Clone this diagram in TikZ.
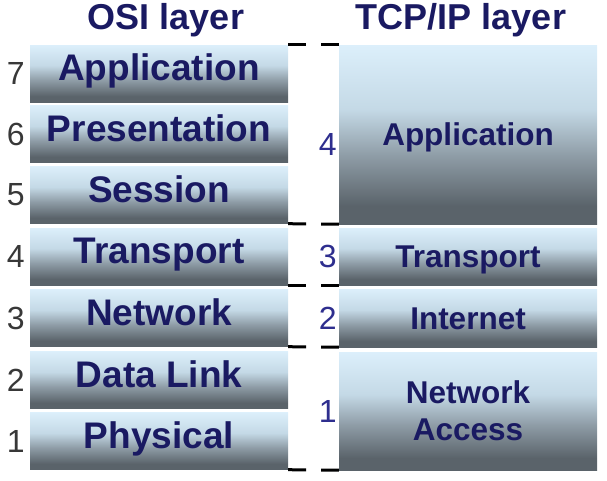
\documentclass[tikz,border=0pt]{standalone}
\usepackage{fontspec}
\usepackage{tikz}
\usepackage{xcolor}
\usetikzlibrary{positioning}
\setmainfont{Liberation Sans}

\definecolor{laytop}{HTML}{DCEFFB}
\definecolor{laylight}{HTML}{C4D9E6}
\definecolor{laymid}{HTML}{8E9CA6}
\definecolor{laydark}{HTML}{5A636A}
\definecolor{laytext}{HTML}{1A1A62}
\definecolor{numblue}{HTML}{2E2E8E}
\definecolor{numgray}{HTML}{383838}

\pgfdeclareverticalshading{layershade}{100bp}{color(0bp)=(laydark); color(25bp)=(laydark); color(30bp)=(laydark); color(44bp)=(laymid); color(57bp)=(laylight); color(75bp)=(laytop); color(100bp)=(laytop)}

\tikzset{
	osibox/.style={shade, shading=layershade, minimum width=258pt, minimum height=57pt, inner sep=0pt, text=laytext, font=\fontsize{37}{40}\selectfont\bfseries, text height=26pt, text depth=12pt},
	tcpbox/.style={shade, shading=layershade, minimum width=258pt, inner sep=0pt, text=laytext, font=\fontsize{31.5}{37}\selectfont\bfseries},
	header/.style={text=laytext, font=\fontsize{36}{40}\selectfont\bfseries},
	osinum/.style={text=numgray, inner sep=0pt, font=\fontsize{32}{34}\selectfont},
	tcpnum/.style={text=numblue, inner sep=0pt, font=\fontsize{32}{34}\selectfont},
	bracketline/.style={draw=black, line width=3pt, dash pattern=on 18pt off 15pt}
}

\begin{document}
\begin{tikzpicture}[x=1pt, y=-1pt]
	\useasboundingbox (0,0) rectangle (607,480);
	\node[header] (osihead) at (166,20) {OSI layer};
	\node[header] (tcphead) at (461,20) {TCP/IP layer};

	\node[osibox] (osiapp) at (159,73.5) {Application};
	\node[osibox] (osipres) at (159,134) {Presentation};
	\node[osibox] (osisess) at (159,195) {Session};
	\node[osibox] (ositrans) at (159,256.5) {Transport};
	\node[osibox] (osinet) at (159,318) {Network};
	\node[osibox] (osilink) at (159,380) {Data Link};
	\node[osibox] (osiphys) at (159,441) {Physical};

	\node[osinum, left=5pt of osiapp] (n7) {7};
	\node[osinum, left=5pt of osipres] (n6) {6};
	\node[osinum, left=5pt of osisess] (n5) {5};
	\node[osinum, left=5pt of ositrans] (n4) {4};
	\node[osinum, left=5pt of osinet] (n3) {3};
	\node[osinum, left=5pt of osilink] (n2) {2};
	\node[osinum, left=5pt of osiphys] (n1) {1};

	\node[tcpbox, minimum height=179pt, text height=22pt, text depth=0pt] (tcpapp) at (468,134.5) {Application};
	\node[tcpbox, minimum height=57pt, text height=22pt, text depth=0pt] (tcptrans) at (468,256.5) {Transport};
	\node[tcpbox, minimum height=58pt, text height=22pt, text depth=0pt] (tcpinet) at (468,318) {Internet};
	\node[tcpbox, minimum height=118pt, align=center] (tcpacc) at (468,411) {Network\\Access};

	\node[tcpnum, left=2pt of tcpapp, yshift=-10pt] (t4) {4};
	\node[tcpnum, left=2pt of tcptrans] (t3) {3};
	\node[tcpnum, left=2pt of tcpinet] (t2) {2};
	\node[tcpnum, left=2pt of tcpacc] (t1) {1};

	\draw[bracketline] (osiapp.north east) -- (tcpapp.north west);
	\draw[bracketline] (osisess.south east) -- (tcpapp.south west);
	\draw[bracketline] (ositrans.south east) -- (tcptrans.south west);
	\draw[bracketline] (osinet.south east) -- (tcpinet.south west);
	\draw[bracketline] (osiphys.south east) -- (tcpacc.south west);
\end{tikzpicture}
\end{document}
